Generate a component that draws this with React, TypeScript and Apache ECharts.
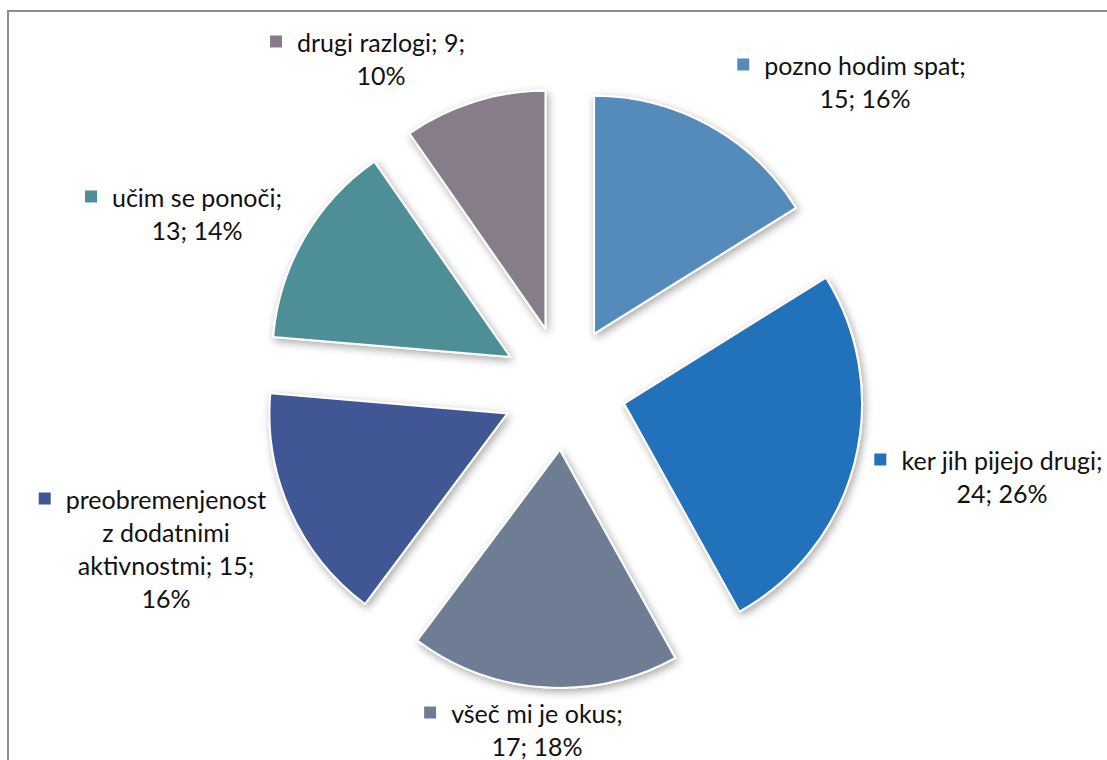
import React, { useEffect, useRef } from "react";
import * as echarts from "echarts";

const categories = [
  "pozno hodim spat",
  "ker jih pijejo drugi",
  "všeč mi je okus",
  "preobremenjenost z dodatnimi aktivnostmi",
  "učim se ponoči",
  "drugi razlogi",
];
const values = [15, 24, 17, 15, 13, 9];
const colors = ["#558BBA", "#2471BB", "#6E7D94", "#3F5795", "#4E8E97", "#877B8A"];
// number of words on each label line
const lineWords = [[3, 2], [4, 2], [4, 2], [1, 2, 2, 1], [3, 2], [3, 1]];
// label anchor: centre x of text, top y of first line
const labelPos = [
  [865, 48],
  [1002, 443],
  [537, 696],
  [166, 482],
  [197, 180],
  [381, 25],
];

const FONT = "Lato";
const FS = 25;
const LH = 33;

export default function App() {
  const ref = useRef<HTMLDivElement>(null);
  useEffect(() => {
    document.body.style.margin = "0";
    const chart = echarts.init(ref.current!, undefined, { renderer: "svg" });
    const total = values.reduce((a, b) => a + b, 0);

    const labels = categories.map((name, i) => {
      const pct = Math.round((values[i] / total) * 100);
      const words = `${name}; ${values[i]}; ${pct}%`.split(" ");
      const lines: string[] = [];
      let k = 0;
      lineWords[i].forEach((n) => {
        lines.push(words.slice(k, k + n).join(" "));
        k += n;
      });
      const text = lines
        .map((l, j) => (j === 0 ? `{sq|}{g|}{t|${l}}{pad|}` : `{t|${l}}`))
        .join("\n");
      return {
        type: "text",
        x: labelPos[i][0],
        y: labelPos[i][1],
        silent: true,
        z: 100,
        style: {
          text,
          align: "center",
          verticalAlign: "top",
          rich: {
            t: {
              fontFamily: FONT,
              fontSize: FS,
              fill: "#111",
              lineHeight: LH,
            },
            sq: { width: 12, height: 12, backgroundColor: colors[i], lineHeight: LH },
            g: { width: 15, height: 12, lineHeight: LH },
            pad: { width: 27, height: 12, lineHeight: LH },
          },
        },
      };
    });

    const data = categories.map((name, i) => ({
      name,
      value: values[i],
      selected: true,
      itemStyle: { color: colors[i] },
    }));
    chart.setOption({
      animation: false,
      backgroundColor: "#fff",
      graphic: [
        {
          type: "rect",
          shape: { x: 8, y: 11, width: 1200, height: 800 },
          style: { fill: "none", stroke: "#8C8C8C", lineWidth: 2 },
          silent: true,
        },
        ...labels,
      ],
      series: [
        {
          type: "pie",
          center: [564, 388],
          radius: 238,
          startAngle: 90,
          clockwise: true,
          selectedMode: "multiple",
          selectedOffset: 62,
          silent: true,
          data,
          itemStyle: {
            borderColor: "#fff",
            borderWidth: 2,
            shadowBlur: 8,
            shadowColor: "rgba(0,0,0,0.35)",
            shadowOffsetX: 2,
            shadowOffsetY: 3,
          },
          select: {
            itemStyle: { borderColor: "#fff", borderWidth: 2 },
          },
          emphasis: { disabled: true },
          labelLine: { show: false },
          label: { show: false },
        },
      ],
    });
    return () => chart.dispose();
  }, []);
  return <div ref={ref} style={{ width: 1107, height: 760 }} />;
}
